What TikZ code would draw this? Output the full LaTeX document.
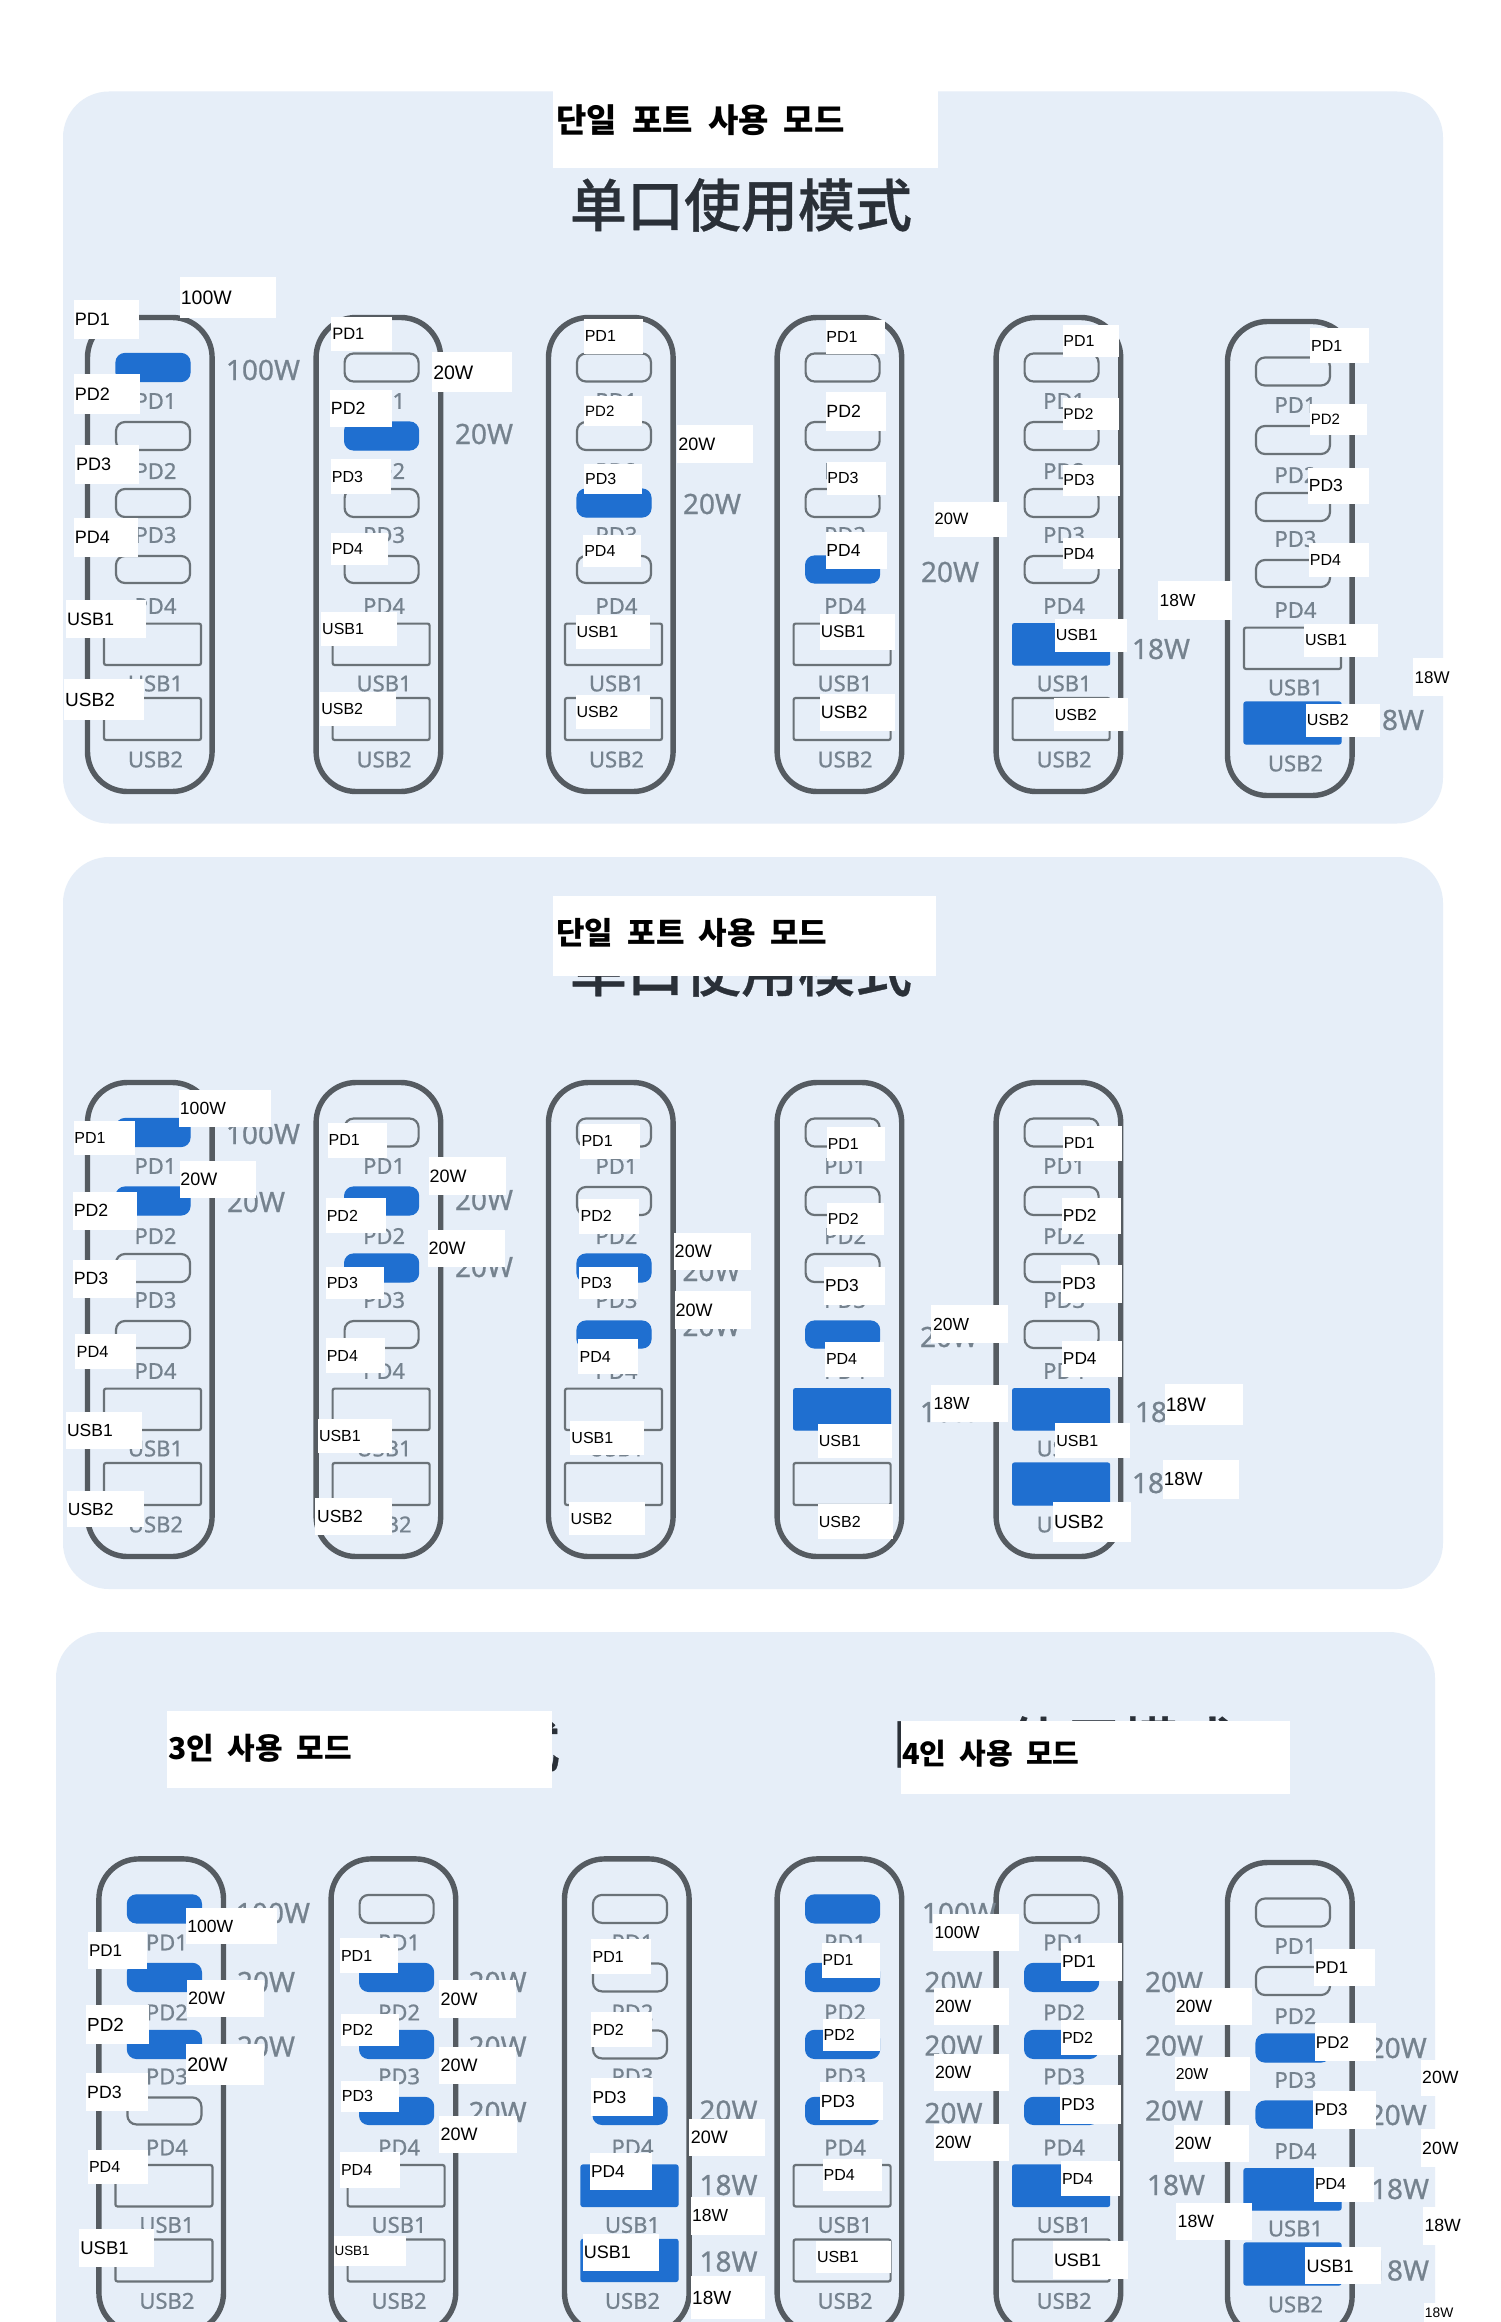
\documentclass[tikz,border=0pt]{standalone}
\usepackage{fontspec}
\setmainfont{Liberation Sans}
\newfontfamily\korf[WordSpace=2]{Noto Sans CJK KR}
\newfontfamily\zhf[FakeBold=0.6]{Noto Sans CJK SC Medium}
\newfontfamily\grayf[FakeBold=0.7]{Noto Sans}
\definecolor{panelc}{HTML}{E6EEF8}
\definecolor{litc}{HTML}{1F6FD0}
\definecolor{bodyc}{HTML}{555B61}
\definecolor{portc}{HTML}{6A7278}
\definecolor{grayc}{HTML}{75828E}
\definecolor{titlec}{HTML}{2A3038}
\tikzset{
  panelbox/.style={fill=panelc,rounded corners=23pt},
  devbody/.style={draw=bodyc,line width=2.7pt,rounded corners=20pt},
  litport/.style={fill=litc,draw=litc,line width=.6pt},
  idleport/.style={draw=portc,line width=1.1pt},
  pillshape/.style={rounded corners=4.5pt},
  usbshape/.style={rounded corners=1pt},
  graylab/.style={text=grayc,inner sep=0pt,font=\grayf\fontsize{11}{11}\selectfont},
  graywatt/.style={text=grayc,inner sep=0pt,font=\grayf\fontsize{14}{14}\selectfont},
  whitetag/.style={inner sep=0pt,anchor=west,text=black},
  cjktitle/.style={text=titlec,inner sep=0pt,font=\zhf\fontsize{28.5}{28.5}\selectfont}
}
\newcommand\dev[8]{%
  \begin{scope}[shift={(#1,#2)}]
    \draw[devbody] (1.5,1.5) rectangle (126.1,475.5);
    \path[#3,pillshape] (30,37.5) rectangle (104,65.5);
    \path[#4,pillshape] (30,106) rectangle (104,134);
    \path[#5,pillshape] (30,173) rectangle (104,201);
    \path[#6,pillshape] (30,240) rectangle (104,267);
    \path[#7,usbshape] (18,307.6) rectangle (115,349);
    \path[#8,usbshape] (18,382) rectangle (115,424);
    \node[graylab] at (69.5,85) {PD1};
    \node[graylab] at (69.5,155) {PD2};
    \node[graylab] at (69.5,219) {PD3};
    \node[graylab] at (69.5,290) {PD4};
    \node[graylab] at (69.5,367.5) {USB1};
    \node[graylab] at (69.5,443.5) {USB2};
  \end{scope}}
\newcommand\gw[3]{\node[graywatt] at (#1,#2) {#3};}
% zoom frame: origin and scale of the measured crop
\newcommand\zf[4]{\def\ox{#1}\def\oy{#2}\def\fx{#3}\def\fy{#4}}
\newcommand\wb[7]{%
  \pgfmathsetmacro\xa{\ox+#1*\fx}\pgfmathsetmacro\ya{\oy+#2*\fy}%
  \pgfmathsetmacro\xb{\ox+#3*\fx}\pgfmathsetmacro\yb{\oy+#4*\fy}%
  \pgfmathsetmacro\xt{\ox+#5*\fx}\pgfmathsetmacro\yt{(\ya+\yb)/2}%
  \pgfmathsetmacro\fs{#6*.5}%
  \fill[white] (\xa,\ya) rectangle (\xb,\yb);
  \node[whitetag,font=\fontsize{\fs}{\fs}\selectfont] at (\xt,\yt) {#7};}
\begin{document}
\begin{tikzpicture}[x=.5pt,y=-.5pt]
\useasboundingbox (0,0) rectangle (1500,2322);
\clip (0,0) rectangle (1500,2322);
\fill[white] (0,0) rectangle (1500,2322);
% panels
\path[panelbox] (63,91.5) rectangle (1443,823.5);
\path[panelbox] (63,857) rectangle (1443,1589);
\path[panelbox] (56,1632) rectangle (1435,2450);
% hidden titles
\node[cjktitle] at (741,205) {单口使用模式};
\node[cjktitle] at (741,970) {单口使用模式};
\node[cjktitle] at (389,1745) {三口使用模式};
\node[cjktitle] at (1064,1743) {四口使用模式};
% panel 1 devices
\dev{86}{316}{litport}{idleport}{idleport}{idleport}{idleport}{idleport}
\dev{314.6}{316}{idleport}{litport}{idleport}{idleport}{idleport}{idleport}
\dev{547}{316}{idleport}{idleport}{litport}{idleport}{idleport}{idleport}
\dev{775.6}{316}{idleport}{idleport}{idleport}{litport}{idleport}{idleport}
\dev{994.6}{316}{idleport}{idleport}{idleport}{idleport}{litport}{idleport}
\dev{1226}{320}{idleport}{idleport}{idleport}{idleport}{idleport}{litport}
% panel 2 devices
\dev{86}{1081}{litport}{litport}{idleport}{idleport}{idleport}{idleport}
\dev{314.6}{1081}{idleport}{litport}{litport}{idleport}{idleport}{idleport}
\dev{547}{1081}{idleport}{idleport}{litport}{litport}{idleport}{idleport}
\dev{775.6}{1081}{idleport}{idleport}{idleport}{litport}{litport}{idleport}
\dev{994.6}{1081}{idleport}{idleport}{idleport}{idleport}{litport}{litport}
% panel 3 devices
\dev{97.4}{1857.4}{litport}{litport}{litport}{idleport}{idleport}{idleport}
\dev{329.6}{1857.4}{idleport}{litport}{litport}{litport}{idleport}{idleport}
\dev{563}{1857.4}{idleport}{idleport}{idleport}{litport}{litport}{litport}
\dev{775.6}{1857.4}{litport}{litport}{litport}{litport}{idleport}{idleport}
\dev{994.6}{1857.4}{idleport}{litport}{litport}{litport}{litport}{idleport}
\dev{1226}{1861}{idleport}{idleport}{litport}{litport}{litport}{litport}
% gray wattage
\gw{263}{370}{100W}\gw{484}{434}{20W}\gw{712}{504}{20W}\gw{950}{572}{20W}\gw{1161}{649}{18W}\gw{1395}{720}{18W}
\gw{263}{1134}{100W}\gw{256}{1202}{20W}\gw{484}{1200}{20W}\gw{484}{1267}{20W}\gw{711.5}{1271}{20W}\gw{711.5}{1326}{20W}
\gw{949}{1337}{20W}\gw{949}{1412}{18W}\gw{1164}{1412}{18W}\gw{1161}{1483}{18W}
\gw{273}{1913}{100W}\gw{266}{1982}{20W}\gw{266}{2046.5}{20W}
\gw{497.6}{1982}{20W}\gw{497.6}{2046.5}{20W}\gw{497.6}{2112}{20W}
\gw{728.5}{2110.6}{20W}\gw{728.5}{2185}{18W}\gw{728.5}{2261.5}{18W}
\gw{959}{1913}{100W}\gw{953.5}{1982}{20W}\gw{953.5}{2045.6}{20W}\gw{953.5}{2113}{20W}
\gw{1174}{1982}{20W}\gw{1174}{2045.6}{20W}\gw{1174}{2110.6}{20W}\gw{1176}{2185}{18W}
\gw{1397.7}{2048}{20W}\gw{1397.7}{2115}{20W}\gw{1400}{2189}{18W}\gw{1400}{2270.5}{18W}
% title boxes
\fill[white] (553,91) rectangle (938,168);
\node[whitetag,font=\korf\bfseries\fontsize{16.5}{16.5}\selectfont] at (556,120) {단일 포트 사용 모드};
\fill[white] (553,896) rectangle (936,976);
\node[whitetag,font=\korf\bfseries\fontsize{15.5}{15.5}\selectfont] at (556,933) {단일 포트 사용 모드};
\fill[white] (167,1711) rectangle (552,1788);
\node[whitetag,font=\korf\bfseries\fontsize{15}{15}\selectfont] at (167.6,1748) {3인 사용 모드};
\fill[white] (900.6,1721) rectangle (1290,1794);
\node[whitetag,font=\korf\bfseries\fontsize{14.5}{14.5}\selectfont] at (901.6,1754) {4인 사용 모드};
% white tags: crop 1
\zf{40}{60}{.459}{.485}
\wb{305}{447}{515}{532}{306}{19.5}{100W}
\wb{73}{495}{216}{575}{75}{18}{PD1}
\wb{74}{648}{218}{730}{75}{18}{PD2}
\wb{76}{793}{216}{875}{78}{18}{PD3}
\wb{73}{945}{213}{1025}{75}{18}{PD4}
\wb{56}{1113}{231}{1192}{58}{18}{USB1}
\wb{52}{1277}{226}{1360}{54}{19}{USB2}
\wb{635}{530}{767}{601}{636}{16.5}{PD1}
\wb{855}{603}{1028}{685}{856}{19.5}{20W}
\wb{631}{680}{767}{756}{633}{17.7}{PD2}
\wb{634}{823}{764}{895}{635}{16}{PD3}
\wb{633}{976}{758}{1042}{635}{16}{PD4}
\wb{612}{1139}{777}{1208}{614}{16}{USB1}
\wb{611}{1303}{775}{1373}{612}{16}{USB2}
\wb{1185}{533}{1313}{606}{1186}{16}{PD1}
\wb{1186}{692}{1311}{755}{1187}{15}{PD2}
\wb{1387}{753}{1553}{830}{1390}{18}{20W}
\wb{1186}{832}{1311}{895}{1187}{16}{PD3}
\wb{1184}{980}{1309}{1045}{1185}{16}{PD4}
\wb{1167}{1145}{1328}{1215}{1168}{16}{USB1}
\wb{1167}{1310}{1328}{1380}{1168}{16}{USB2}
% crop 2
\zf{760}{60}{.472}{.497}
\wb{139}{523}{265}{592}{140}{16}{PD1}
\wb{139}{669}{267}{746}{140}{17.7}{PD2}
\wb{141}{808}{267}{876}{142}{16}{PD3}
\wb{368}{889}{523}{959}{369}{16.5}{20W}
\wb{139}{949}{269}{1025}{140}{17.5}{PD4}
\wb{127}{1114}{285}{1188}{128}{17}{USB1}
\wb{127}{1275}{285}{1350}{128}{17.9}{USB2}
\wb{641}{533}{761}{597}{642}{16}{PD1}
\wb{641}{681}{761}{744}{642}{15.5}{PD2}
\wb{641}{814}{763}{878}{642}{16}{PD3}
\wb{641}{961}{763}{1025}{642}{16}{PD4}
\wb{625}{1124}{777}{1191}{626}{16}{USB1}
\wb{623}{1283}{779}{1351}{624}{16}{USB2}
\wb{843}{1049}{1001}{1126}{846}{17.4}{18W}
\wb{1165}{540}{1290}{609}{1167}{16}{PD1}
\wb{1165}{692}{1286}{754}{1166}{15}{PD2}
\wb{1161}{820}{1290}{893}{1162}{17.5}{PD3}
\wb{1163}{971}{1290}{1041}{1164}{16}{PD4}
\wb{1153}{1134}{1309}{1201}{1154}{16}{USB1}
\wb{1157}{1295}{1313}{1362}{1158}{16}{USB2}
\wb{1383}{1204}{1468}{1280}{1386}{17}{18W}
% crop 3
\zf{40}{860}{.459}{.472}
\wb{303}{488}{503}{565}{304}{17.6}{100W}
\wb{73}{553}{207}{625}{74}{16}{PD1}
\wb{304}{638}{470}{717}{305}{18}{20W}
\wb{72}{703}{211}{783}{73}{17.7}{PD2}
\wb{72}{847}{209}{927}{73}{17.7}{PD3}
\wb{77}{1005}{209}{1079}{79}{16.3}{PD4}
\wb{56}{1170}{223}{1247}{58}{17.5}{USB1}
\wb{58}{1337}{226}{1413}{60}{17.5}{USB2}
\wb{627}{557}{755}{631}{628}{16}{PD1}
\wb{847}{630}{1015}{710}{848}{18}{20W}
\wb{622}{716}{754}{790}{624}{16}{PD2}
\wb{845}{784}{1013}{862}{846}{18}{20W}
\wb{622}{862}{749}{930}{624}{16}{PD3}
\wb{622}{1013}{751}{1087}{624}{16}{PD4}
\wb{605}{1185}{767}{1257}{607}{16}{USB1}
\wb{600}{1352}{767}{1429}{603}{17.5}{USB2}
\wb{1177}{559}{1307}{633}{1179}{16}{PD1}
\wb{1175}{718}{1304}{792}{1177}{16}{PD2}
\wb{1381}{790}{1548}{868}{1382}{18}{20W}
\wb{1175}{862}{1302}{930}{1177}{16}{PD3}
\wb{1383}{913}{1548}{993}{1384}{18}{20W}
\wb{1173}{1015}{1302}{1089}{1175}{16}{PD4}
\wb{1155}{1189}{1315}{1260}{1157}{16}{USB1}
\wb{1153}{1360}{1317}{1431}{1155}{16}{USB2}
% crop 4
\zf{760}{860}{.472}{.472}
\wb{141}{566}{265}{637}{143}{15.8}{PD1}
\wb{141}{727}{263}{795}{143}{15.8}{PD2}
\wb{135}{862}{265}{942}{137}{17.3}{PD3}
\wb{137}{1021}{263}{1095}{139}{16}{PD4}
\wb{363}{943}{525}{1023}{366}{17.5}{20W}
\wb{363}{1112}{525}{1191}{367}{17.5}{18W}
\wb{122}{1195}{280}{1267}{124}{16}{USB1}
\wb{122}{1365}{282}{1438}{124}{16}{USB2}
\wb{641}{564}{767}{637}{643}{15.8}{PD1}
\wb{639}{716}{765}{792}{641}{17.3}{PD2}
\wb{637}{858}{767}{938}{639}{17.3}{PD3}
\wb{639}{1019}{767}{1095}{641}{17.3}{PD4}
\wb{625}{1193}{783}{1267}{627}{16}{USB1}
\wb{620}{1360}{787}{1444}{622}{19}{USB2}
\wb{857}{1110}{1023}{1197}{859}{19.5}{18W}
\wb{853}{1271}{1015}{1354}{855}{18.8}{18W}
% crop 5
\zf{40}{1620}{.459}{.448}
\wb{318}{642}{516}{724}{320}{17.6}{100W}
\wb{105}{697}{233}{780}{106}{17}{PD1}
\wb{320}{803}{488}{887}{322}{18}{20W}
\wb{100}{860}{237}{947}{102}{18.9}{PD2}
\wb{318}{947}{488}{1038}{320}{19.6}{20W}
\wb{100}{1012}{235}{1097}{102}{17.7}{PD3}
\wb{105}{1182}{235}{1259}{106}{16}{PD4}
\wb{85}{1360}{248}{1445}{87}{18.5}{USB1}
\wb{653}{710}{780}{788}{655}{16}{PD1}
\wb{870}{804}{1037}{889}{872}{18}{20W}
\wb{655}{880}{782}{951}{657}{16}{PD2}
\wb{870}{954}{1037}{1035}{872}{18}{20W}
\wb{655}{1028}{782}{1099}{657}{16}{PD3}
\wb{870}{1106}{1039}{1190}{872}{18}{20W}
\wb{653}{1188}{784}{1267}{655}{16}{PD4}
\wb{640}{1375}{797}{1441}{641}{13.4}{USB1}
\wb{1201}{713}{1332}{791}{1203}{16}{PD1}
\wb{1201}{876}{1333}{953}{1203}{16}{PD2}
\wb{1201}{1023}{1335}{1107}{1203}{17.3}{PD3}
\wb{1415}{1113}{1580}{1197}{1417}{18}{20W}
\wb{1199}{1190}{1333}{1272}{1200}{17.3}{PD4}
\wb{1418}{1288}{1580}{1372}{1420}{17.5}{18W}
\wb{1182}{1370}{1348}{1453}{1184}{18}{USB1}
\wb{1418}{1465}{1580}{1560}{1420}{19}{18W}
% crop 6
\zf{760}{1620}{.472}{.448}
\wb{131}{722}{255}{798}{132}{15.8}{PD1}
\wb{133}{891}{255}{963}{134}{16}{PD2}
\wb{127}{1032}{261}{1116}{128}{17.5}{PD3}
\wb{133}{1204}{259}{1275}{134}{16}{PD4}
\wb{119}{1385}{277}{1457}{120}{16}{USB1}
\wb{367}{657}{549}{738}{369}{17.3}{100W}
\wb{369}{821}{527}{905}{370}{17.7}{20W}
\wb{369}{969}{527}{1051}{370}{17.7}{20W}
\wb{369}{1125}{527}{1208}{370}{17.7}{20W}
\wb{638}{721}{767}{805}{639}{17.3}{PD1}
\wb{638}{893}{765}{971}{639}{16}{PD2}
\wb{636}{1039}{765}{1124}{637}{17.3}{PD3}
\wb{638}{1208}{763}{1286}{639}{16}{PD4}
\wb{620}{1387}{779}{1471}{622}{18}{USB1}
\wb{879}{821}{1043}{905}{880}{17.7}{20W}
\wb{879}{976}{1039}{1051}{880}{15.8}{20W}
\wb{877}{1127}{1037}{1210}{878}{17.7}{20W}
\wb{881}{1301}{1043}{1384}{884}{17.7}{18W}
\wb{1173}{735}{1302}{818}{1175}{17}{PD1}
\wb{1176}{900}{1305}{985}{1177}{17}{PD2}
\wb{1400}{981}{1480}{1063}{1402}{17.7}{20W}
\wb{1172}{1052}{1305}{1136}{1174}{17}{PD3}
\wb{1400}{1137}{1480}{1220}{1402}{17.7}{20W}
\wb{1174}{1220}{1300}{1298}{1175}{16}{PD4}
\wb{1405}{1310}{1490}{1394}{1407}{17.7}{18W}
\wb{1155}{1400}{1316}{1483}{1157}{18}{USB1}
\wb{1407}{1525}{1480}{1568}{1408}{13.8}{18W}
\end{tikzpicture}
\end{document}
